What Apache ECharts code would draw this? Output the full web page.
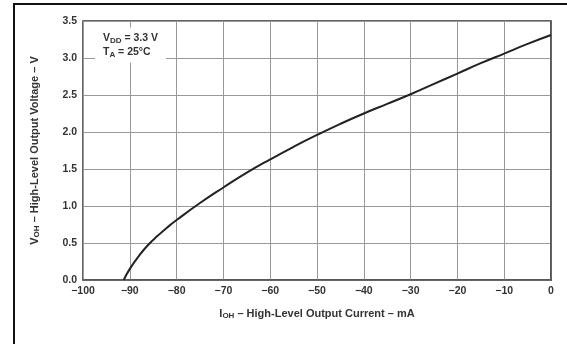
<!DOCTYPE html>
<html>
<head>
<meta charset="utf-8">
<script src="https://cdn.jsdelivr.net/npm/echarts@6/dist/echarts.min.js"></script>
<style>
  html, body { margin: 0; padding: 0; background: #fff; }
  #wrap { position: relative; width: 567px; height: 344px; overflow: hidden; }
  #frame { position: absolute; left: 13px; top: 3px; width: 600px; height: 400px;
           border-left: 2px solid #111; border-top: 2px solid #111; }
  #chart { position: absolute; left: 0; top: 0; width: 567px; height: 344px; }
</style>
</head>
<body>
<div id="wrap">
  <div id="frame"></div>
  <div id="chart"></div>
</div>
<script>
  // I_OH (mA) vs V_OH (V)
  var currentMA = [-91.3, -90, -88, -86, -84, -82, -80, -75, -70, -65, -60, -55, -50, -45, -40, -35, -30, -25, -20, -15, -10, -5, 0]
  var voltageV  = [0, 0.15, 0.33, 0.48, 0.60, 0.71, 0.81, 1.04, 1.25, 1.45, 1.63, 1.80, 1.96, 2.11, 2.25, 2.38, 2.51, 2.65, 2.79, 2.93, 3.06, 3.19, 3.31]
  var xRange = [-100, 0]
  var yRange = [0, 3.5]

  var pts = currentMA.map(function (x, i) { return [x, voltageV[i]] })

  var font = '"Liberation Sans", Arial, sans-serif'
  var subStyle = { fontSize: 8, fontWeight: 'bold', fontFamily: font, color: '#333', padding: [5, 0, 0, 0] }
  var nameStyle = { fontSize: 11, fontWeight: 'bold', fontFamily: font, color: '#333' }

  var myChart = echarts.init(document.getElementById('chart'))
  var option = {
    animation: false,
    title: {
      left: 95,
      top: 27,
      backgroundColor: '#fff',
      padding: [4, 8, 4, 8],
      text: '{n|V}{s|DD}{n| = 3.3 V}\n{n|T}{s|A}{n| = 25°C}',
      textStyle: {
        rich: {
          n: { fontSize: 10.5, fontWeight: 'bold', fontFamily: font, color: '#333', lineHeight: 14 },
          s: { fontSize: 8, fontWeight: 'bold', fontFamily: font, color: '#333', padding: [5, 0, 0, 0], lineHeight: 14 }
        }
      }
    },
    grid: {
      left: 83, right: 16, top: 21, bottom: 64,
      show: true,
      borderColor: '#333',
      borderWidth: 1.5
    },
    xAxis: {
      type: 'value',
      min: xRange[0], max: xRange[1], interval: 10,
      name: '{n|I}{s|OH}{n| – High-Level Output Current – mA}',
      nameLocation: 'middle',
      nameGap: 27,
      nameTextStyle: { rich: { n: nameStyle, s: subStyle } },
      axisLine: { show: true, onZero: false, lineStyle: { color: '#555', width: 1.5 } },
      axisTick: { show: false },
      axisLabel: {
        margin: 6,
        fontSize: 10.5, fontWeight: 'bold', fontFamily: font, color: '#333',
        formatter: function (v) { return String(v).replace('-', '\u2212') }
      },
      splitLine: { show: true, lineStyle: { color: '#999', width: 1 } }
    },
    yAxis: {
      type: 'value',
      min: yRange[0], max: yRange[1], interval: 0.5,
      name: '{n|V}{s|OH}{n| – High-Level Output Voltage – V}',
      nameLocation: 'middle',
      nameGap: 42,
      nameTextStyle: { rich: { n: nameStyle, s: subStyle } },
      axisLine: { show: true, lineStyle: { color: '#555', width: 1.5 } },
      axisTick: { show: false },
      axisLabel: {
        margin: 6,
        fontSize: 10.5, fontWeight: 'bold', fontFamily: font, color: '#333',
        formatter: function (v) { return v.toFixed(1) }
      },
      splitLine: { show: true, lineStyle: { color: '#999', width: 1 } }
    },
    series: [{
      type: 'line',
      data: pts,
      smooth: true,
      showSymbol: false,
      lineStyle: { color: '#222', width: 2 }
    }]
  }
  myChart.setOption(option)
</script>
</body>
</html>
